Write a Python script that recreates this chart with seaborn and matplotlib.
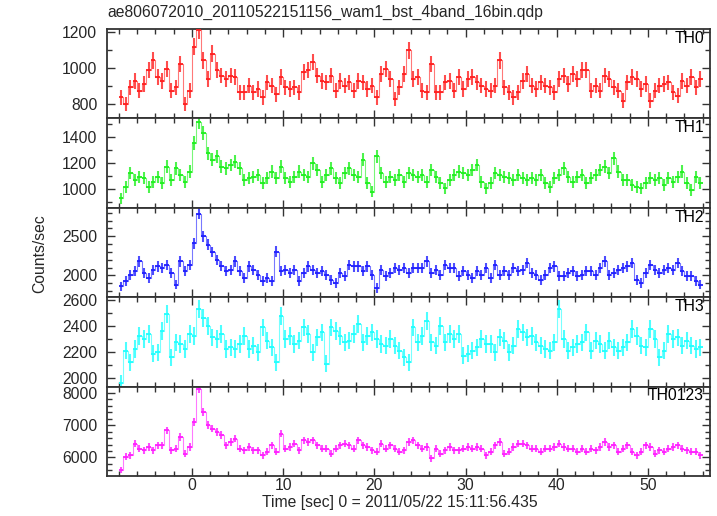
import numpy as np
import matplotlib
matplotlib.use("Agg")
import matplotlib.pyplot as plt
from matplotlib.ticker import MultipleLocator
import seaborn as sns

# ---------------- data (0.5 s bins, starting at t = -8 s) ----------------
t_start = -8.0
bin_width = 0.5

th0 = [837, 800, 893, 930, 875, 912, 987, 1043, 950, 930,
       996, 875, 893, 1024, 800, 875, 1118, 1211, 1043, 940,
       1080, 987, 959, 940, 959, 950, 865, 865, 903, 865,
       884, 837, 921, 903, 856, 950, 893, 884, 893, 865,
       978, 987, 1034, 959, 930, 921, 959, 875, 930, 903,
       921, 875, 930, 921, 884, 903, 837, 968, 996, 940,
       828, 893, 968, 1099,
       940, 950, 875, 865, 1024, 865, 865, 921, 930, 875,
       950, 884, 940, 950, 921, 903, 884, 875, 903, 1043,
       893, 865, 837, 865, 930, 968, 903, 884, 921, 903,
       893, 865, 940, 959, 912, 968, 940, 987, 987, 875,
       903, 875, 959, 940, 893, 875, 819, 921, 950, 940,
       884, 912, 819, 875, 903, 912, 921, 865, 847, 930,
       903, 950, 893, 940]

th1 = [927, 1017, 1121, 1069, 1095, 1082, 1017, 1056, 1095, 1043,
       1172, 1069, 1159, 1108, 1056, 1134, 1353, 1520, 1430, 1276,
       1224, 1250, 1172, 1159, 1185, 1211, 1159, 1069, 1082, 1095,
       1108, 1043, 1082, 1134, 1082, 1172, 1082, 1056, 1095, 1134,
       1108, 1095, 1198, 1146, 1056, 1108, 1159, 1082, 1043, 1121,
       1159, 1108, 1095, 1224, 1043, 979, 1250, 1121, 1056, 1095,
       1069, 1108, 1056, 1121,
       1108, 1095, 1108, 1056, 1146, 1095, 1043, 1004, 1069, 1108,
       1134, 1121, 1108, 1146, 1185, 1056, 1004, 1043, 1121, 1108,
       1095, 1082, 1069, 1108, 1082, 1069, 1082, 1069, 1108, 1043,
       1017, 1082, 1108, 1159, 1095, 1056, 1095, 1108, 1043, 1082,
       1108, 1146, 1172, 1121, 1237, 1134, 1069, 1069, 1030, 1017,
       1004, 1043, 1082, 1069, 1082, 1030, 1082, 1056, 1095, 1134,
       1043, 992, 1095, 1043]

th2 = [1860, 1924, 2008, 2051, 2178, 2030, 1966, 2072, 2114, 2093,
       2136, 2030, 1881, 2178, 2051, 2136, 2411, 2790, 2500, 2390,
       2300, 2200, 2120, 2051, 2072, 2178, 2051, 1966, 2114, 2072,
       2008, 1924, 1966, 1924, 2305, 2051, 2072, 2030, 2072, 1924,
       2030, 2114, 2072, 2030, 2051, 2008, 1945, 1903, 2030, 1987,
       2136, 2114, 2114, 2051, 2114, 2008, 1839, 2072, 1987, 2030,
       2093, 2072, 2093, 2030,
       2093, 2093, 2093, 2178, 2030, 2072, 2008, 2136, 2093, 2093,
       1987, 2051, 2008, 1966, 2051, 2008, 2093, 1966, 2136, 2008,
       2051, 2008, 2093, 2051, 2072, 2157, 2030, 2008, 1945, 2008,
       2093, 2114, 1987, 1987, 2030, 2051, 1987, 2008, 2051, 2051,
       2008, 2093, 2178, 2008, 2030, 2072, 2093, 2114, 2157, 1945,
       1903, 2030, 2136, 2072, 2030, 2072, 2093, 2072, 2157, 2051,
       1987, 1987, 1924, 1881]

th3 = [1960, 2210, 2121, 2223, 2326, 2300, 2338, 2185, 2197, 2364,
       2492, 2159, 2274, 2262, 2223, 2338, 2326, 2531, 2467, 2403,
       2313, 2300, 2338, 2223, 2236, 2223, 2262, 2326, 2223, 2249,
       2197, 2390, 2287, 2236, 2121, 2480, 2300, 2326, 2262, 2287,
       2390, 2338, 2197, 2313, 2351, 2108, 2390, 2364, 2326, 2274,
       2287, 2338, 2415, 2274, 2326, 2351, 2300, 2262, 2249, 2300,
       2249, 2210, 2159, 2121,
       2390, 2274, 2326, 2441, 2274, 2249, 2403, 2274, 2338, 2300,
       2338, 2172, 2185, 2210, 2236, 2300, 2262, 2262, 2197, 2313,
       2287, 2197, 2249, 2377, 2351, 2313, 2326, 2274, 2249, 2223,
       2210, 2274, 2531, 2300, 2210, 2236, 2262, 2274, 2351, 2210,
       2287, 2262, 2210, 2287, 2236, 2210, 2236, 2274, 2377, 2326,
       2249, 2236, 2377, 2300, 2159, 2210, 2338, 2300, 2313, 2249,
       2287, 2249, 2223, 2236]

th0123 = [5613, 6021, 6072, 6429, 6276, 6225, 6327, 6225, 6378, 6378,
          6837, 6225, 6276, 6633, 6123, 6327, 7100, 8100, 7400, 7000,
          6890, 6790, 6700, 6378, 6480, 6582, 6276, 6225, 6327, 6225,
          6225, 6072, 6174, 6378, 6174, 6735, 6276, 6327, 6429, 6225,
          6531, 6480, 6531, 6378, 6276, 6276, 6123, 6276, 6378, 6429,
          6378, 6276, 6531, 6378, 6327, 6225, 6174, 6429, 6276, 6378,
          6276, 6174, 6225, 6480,
          6531, 6378, 6276, 6327, 5970, 6276, 6123, 6225, 6327, 6225,
          6225, 6276, 6327, 6276, 6327, 6276, 6072, 6174, 6378, 6480,
          6123, 6174, 6327, 6429, 6429, 6378, 6276, 6276, 6174, 6276,
          6276, 6327, 6429, 6327, 6276, 6276, 6174, 6276, 6174, 6276,
          6225, 6327, 6480, 6327, 6378, 6174, 6276, 6378, 6174, 6072,
          6174, 6378, 6327, 6123, 6225, 6174, 6276, 6327, 6378, 6276,
          6225, 6174, 6174, 6072]

panel_names = ["TH0", "TH1", "TH2", "TH3", "TH0123"]
panel_data = [th0, th1, th2, th3, th0123]
panel_colors = ["#ff2020", "#20f020", "#2020ff", "#20ffff", "#ff20ff"]
panel_ylims = [(721, 1217), (854, 1544), (1720, 2865), (1931, 2625), (5430, 8184)]
panel_major = [200, 200, 500, 200, 1000]
panel_minor = [100, 100, 100, 100, 200]

title = "ae806072010_20110522151156_wam1_bst_4band_16bin.qdp"
xlabel = "Time [sec] 0 = 2011/05/22 15:11:56.435"
ylabel = "Counts/sec"

# ---------------- style ----------------
sns.set_style("ticks")
plt.rcParams["font.family"] = ["Liberation Sans", "DejaVu Sans"]
FS = 11.3
edge = "#333333"

W, H = 717, 516
fig = plt.figure(figsize=(W / 100, H / 100), dpi=100)
gs = fig.add_gridspec(5, 1, left=107 / W, right=710 / W,
                      top=1 - 29 / H, bottom=1 - 476 / H, hspace=0)

axes = []
for k in range(5):
    ax = fig.add_subplot(gs[k, 0], sharex=axes[0] if axes else None)
    axes.append(ax)
    vals = np.asarray(panel_data[k], dtype=float)
    t = t_start + bin_width * (np.arange(len(vals)) + 0.5)
    err = np.sqrt(vals * bin_width) / bin_width
    c = panel_colors[k]
    ax.errorbar(t, vals, yerr=err, fmt="none", ecolor=c, elinewidth=1.5,
                alpha=0.8, capsize=0, zorder=2)
    ax.errorbar(t, vals, xerr=bin_width / 2, fmt="none", ecolor=c,
                elinewidth=1.3, capsize=0, zorder=3)
    sns.lineplot(x=t, y=vals, ax=ax, color=c, lw=0.8, drawstyle="steps-mid",
                 alpha=0.6, zorder=3, legend=False)
    ax.set_ylim(*panel_ylims[k])
    ax.set_xlim(-9.3, 56.8)
    ax.yaxis.set_major_locator(MultipleLocator(panel_major[k]))
    ax.yaxis.set_minor_locator(MultipleLocator(panel_minor[k]))
    ax.xaxis.set_major_locator(MultipleLocator(10))
    ax.xaxis.set_minor_locator(MultipleLocator(2))
    ax.tick_params(which="both", direction="in", top=True, right=True,
                   color=edge, width=1.0, labelsize=FS)
    ax.tick_params(which="major", length=6)
    ax.tick_params(which="minor", length=3.5)
    ax.tick_params(axis="y", pad=7)
    ax.tick_params(axis="x", pad=1.5)
    for sp in ax.spines.values():
        sp.set_color(edge)
        sp.set_linewidth(1.3)
    ax.set_xlabel("")
    ax.set_ylabel("")
    if k < 4:
        ax.tick_params(axis="x", labelbottom=False)
    ax.text((704 - 107) / 603, 0.845, panel_names[k], transform=ax.transAxes,
            ha="right", va="baseline", fontsize=FS, color="black")

fig.text(107 / W, 1 - 12 / H, title, ha="left", va="center", fontsize=FS)
fig.text(400 / W, 1 - 503 / H, xlabel, ha="center", va="center", fontsize=FS)
fig.text(40 / W, 1 - 254 / H, ylabel, ha="center", va="center",
         rotation=90, fontsize=FS)

fig.savefig("out.png", dpi=100)
